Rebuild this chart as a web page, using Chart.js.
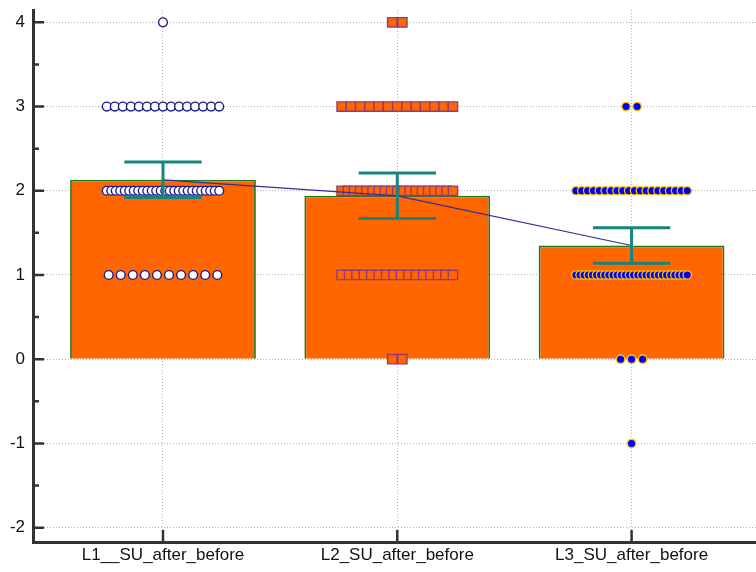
<!DOCTYPE html>
<html>
<head>
<meta charset="utf-8">
<script src="https://cdn.jsdelivr.net/npm/chart.js@4/dist/chart.umd.min.js"></script>
<style>
  html, body { margin: 0; padding: 0; background: #ffffff; }
  #wrap { width: 756px; height: 572px; }
</style>
</head>
<body>
<div id="wrap"><canvas id="chart" width="756" height="572"></canvas></div>
<script>
// Groups on the horizontal axis
const categories = ['L1__SU_after_before', 'L2_SU_after_before', 'L3_SU_after_before'];

// Group means (bar heights) and error-bar half widths
const means = [2.13, 1.94, 1.35];
const errors = [0.21, 0.27, 0.21];

// Response levels and how many observations fall on each level, per group
const levels = [4, 3, 2, 1, 0, -1];
const countsL1 = [1, 15, 26, 10, 0, 0];
const countsL2 = [2, 13, 19, 16, 2, 0];
const countsL3 = [0, 2, 20, 28, 3, 1];

// Vertical axis tick values
const yTicks = [-2, -1, 0, 1, 2, 3, 4];

// Spread tied observations sideways around the group centre (dot-plot layout)
function spreadPoints(groupIndex, counts, step, maxSpan) {
  const pts = [];
  levels.forEach((lv, j) => {
    const k = counts[j];
    if (!k) return;
    const gap = k > 1 ? Math.min(step, maxSpan / (k - 1)) : 0;
    for (let m = 0; m < k; m++) {
      pts.push({ x: groupIndex + (m - (k - 1) / 2) * gap, y: lv });
    }
  });
  return pts;
}

const AXIS_COLOR = '#333333';
const GRID_COLOR = '#b2b2b2';

// Error bars with caps, drawn above the data
const errorBarPlugin = {
  id: 'errorBars',
  afterDatasetsDraw(chart) {
    const { ctx } = chart;
    const xs = chart.scales.x, ys = chart.scales.y;
    ctx.save();
    ctx.strokeStyle = '#17857f';
    ctx.lineWidth = 3;
    means.forEach((m, i) => {
      const x = xs.getPixelForValue(i);
      const xl = xs.getPixelForValue(i - 0.165);
      const xr = xs.getPixelForValue(i + 0.165);
      const yt = ys.getPixelForValue(m + errors[i]);
      const yb = ys.getPixelForValue(m - errors[i]);
      ctx.beginPath();
      ctx.moveTo(x, yt); ctx.lineTo(x, yb);
      ctx.moveTo(xl, yt); ctx.lineTo(xr, yt);
      ctx.moveTo(xl, yb); ctx.lineTo(xr, yb);
      ctx.stroke();
    });
    ctx.restore();
  }
};

// Inward-pointing major and minor tick marks on both axes
const innerTicksPlugin = {
  id: 'innerTicks',
  afterDraw(chart) {
    const { ctx } = chart;
    const xs = chart.scales.x, ys = chart.scales.y;
    const left = chart.chartArea.left, bottom = chart.chartArea.bottom;
    ctx.save();
    ctx.strokeStyle = AXIS_COLOR;
    ctx.lineWidth = 2.5;
    ctx.beginPath();
    yTicks.forEach(v => {
      const p = ys.getPixelForValue(v);
      ctx.moveTo(left, p); ctx.lineTo(left + 11, p);
    });
    for (let i = 0; i < yTicks.length - 1; i++) {
      const p = ys.getPixelForValue((yTicks[i] + yTicks[i + 1]) / 2);
      ctx.moveTo(left, p); ctx.lineTo(left + 6, p);
    }
    categories.forEach((_, i) => {
      const p = xs.getPixelForValue(i);
      ctx.moveTo(p, bottom); ctx.lineTo(p, bottom - 12);
    });
    ctx.stroke();
    ctx.restore();
  }
};

Chart.defaults.font.family = "'Liberation Sans', Arial, sans-serif";
Chart.defaults.font.size = 17;
Chart.defaults.color = '#111111';

new Chart(document.getElementById('chart'), {
  type: 'scatter',
  data: {
    datasets: [
      {
        type: 'bar',
        data: means.map((m, i) => ({ x: i, y: m })),
        backgroundColor: '#ff6600',
        borderColor: '#1c7a20',
        borderWidth: 1.8,
        barPercentage: 0.793,
        categoryPercentage: 1.0,
        order: 10
      },
      {
        type: 'scatter',
        data: spreadPoints(0, countsL1, 0.0515, 0.48),
        pointStyle: 'circle',
        pointRadius: 4.4,
        backgroundColor: '#ffffff',
        borderColor: '#1a1a8f',
        borderWidth: 1.4,
        order: 5
      },
      {
        type: 'scatter',
        data: spreadPoints(1, countsL2, 0.043, 0.475),
        pointStyle: 'rect',
        pointRadius: 6.6,
        backgroundColor: '#ff6600',
        borderColor: '#9a3a72',
        borderWidth: 1.4,
        order: 5
      },
      {
        type: 'scatter',
        data: spreadPoints(2, countsL3, 0.047, 0.475),
        pointStyle: 'circle',
        pointRadius: 4.2,
        backgroundColor: '#0000ff',
        borderColor: '#ffc400',
        borderWidth: 1.3,
        order: 5
      },
      {
        type: 'line',
        data: means.map((m, i) => ({ x: i, y: m })),
        borderColor: '#2f2f9c',
        borderWidth: 1.2,
        pointRadius: 0,
        fill: false,
        tension: 0,
        order: 1
      }
    ]
  },
  options: {
    responsive: false,
    animation: false,
    events: [],
    layout: { autoPadding: false, padding: { top: 10, left: 0, right: 0, bottom: 0 } },
    plugins: { legend: { display: false }, tooltip: { enabled: false } },
    scales: {
      x: {
        type: 'linear',
        min: -0.5548,
        max: 2.531,
        offset: false,
        afterBuildTicks: s => { s.ticks = categories.map((_, i) => ({ value: i })); },
        afterFit: s => { s.height = 30; s.paddingLeft = 0; s.paddingRight = 0; },
        grid: { offset: false, color: GRID_COLOR, lineWidth: 1, drawTicks: false },
        border: { display: true, color: AXIS_COLOR, width: 3, dash: [1, 2] },
        ticks: {
          padding: 3,
          maxRotation: 0,
          autoSkip: false,
          font: { size: 17 },
          callback: v => categories[v]
        }
      },
      y: {
        type: 'linear',
        min: -2.17,
        max: 4.146,
        afterBuildTicks: s => { s.ticks = yTicks.map(v => ({ value: v })); },
        afterFit: s => { s.width = 33; s.paddingTop = 0; s.paddingBottom = 0; },
        grid: { color: GRID_COLOR, lineWidth: 1, drawTicks: false },
        border: { display: true, color: AXIS_COLOR, width: 3, dash: [1, 2] },
        ticks: {
          padding: 8,
          font: { size: 17 },
          callback: v => String(v)
        }
      }
    }
  },
  plugins: [errorBarPlugin, innerTicksPlugin]
});
</script>
</body>
</html>
